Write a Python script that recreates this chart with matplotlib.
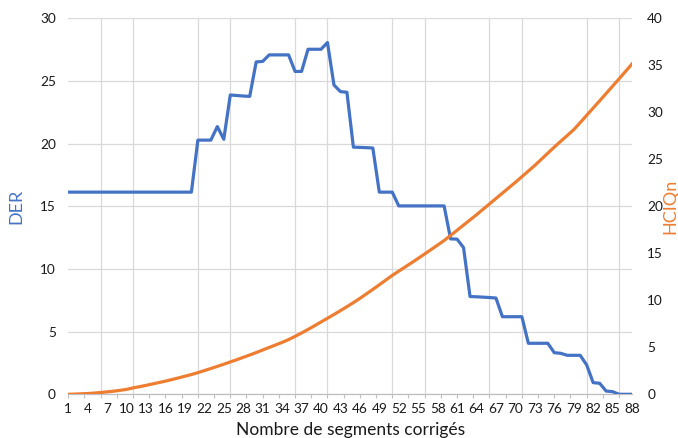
import numpy as np
import matplotlib
matplotlib.use("Agg")
import matplotlib.pyplot as plt
from matplotlib.ticker import MultipleLocator, NullFormatter

plt.rcParams['font.family'] = ['Lato', 'DejaVu Sans']

# segments corrected (x categories)
segments = list(range(1, 89))

# DER (left axis)
der = [16.13] * 20 + [
    20.28, 20.28, 20.28, 21.36, 20.35,               # 21-25
    23.88, 23.84, 23.80, 23.77, 26.52,               # 26-30
    26.56, 27.08, 27.08, 27.08, 27.08,               # 31-35
    25.76, 25.76, 27.53, 27.53, 27.53,               # 36-40
    28.07, 24.68, 24.15, 24.10, 19.72,               # 41-45
    19.70, 19.68, 19.65, 16.13, 16.13,               # 46-50
    16.13, 15.03, 15.03, 15.03, 15.03,               # 51-55
    15.03, 15.03, 15.03, 15.03, 12.40,               # 56-60
    12.38, 11.70, 7.80, 7.78, 7.75,                  # 61-65
    7.72, 7.68, 6.19, 6.19, 6.19,                    # 66-70
    6.19, 4.07, 4.07, 4.07, 4.07,                    # 71-75
    3.32, 3.27, 3.11, 3.11, 3.11,                    # 76-80
    2.34, 0.93, 0.88, 0.26, 0.21,                    # 81-85
    0.0, 0.0, 0.0,                                   # 86-88
]

# HCIQn (right axis)
hciqn = [
    0.00, 0.02, 0.05, 0.08, 0.13, 0.19, 0.26, 0.33, 0.42, 0.52,
    0.68, 0.81, 0.95, 1.10, 1.25, 1.40, 1.57, 1.74, 1.92, 2.10,
    2.30, 2.52, 2.74, 2.97, 3.20, 3.44, 3.68, 3.93, 4.18, 4.44,
    4.71, 4.98, 5.25, 5.52, 5.82, 6.16, 6.52, 6.90, 7.29, 7.69,
    8.09, 8.49, 8.90, 9.32, 9.75, 10.20, 10.68, 11.16, 11.65, 12.15,
    12.65, 13.10, 13.55, 14.00, 14.46, 14.93, 15.40, 15.88, 16.36, 16.90,
    17.45, 18.00, 18.55, 19.10, 19.68, 20.25, 20.83, 21.40, 21.98, 22.55,
    23.15, 23.75, 24.35, 25.00, 25.65, 26.30, 26.92, 27.53, 28.15, 28.90,
    29.68, 30.45, 31.22, 32.00, 32.78, 33.56, 34.35, 35.15,
]

x_labels = list(range(1, 89, 3))

BLUE = '#4472C4'
ORANGE = '#ED7D31'
GRID = '#D9D9D9'
TEXT = '#1a1a1a'

fig = plt.figure(figsize=(6.78, 4.38), dpi=100)
ax = fig.add_axes([0.1007, 0.0998, 0.8315, 0.8584])
ax2 = ax.twinx()

ax.plot(segments, der, color=BLUE, lw=2.3, solid_joinstyle='round', zorder=3)
ax2.plot(segments, hciqn, color=ORANGE, lw=2.3, solid_joinstyle='round', zorder=3)

ax.set_xlim(1, 88)
ax.set_ylim(0, 30)
ax2.set_ylim(0, 40)

# labels every 3 segments, gridlines every 5
ax.set_xticks(x_labels)
ax.set_xticklabels([str(v) for v in x_labels], fontsize=9.8, color=TEXT)
ax.tick_params(axis='x', which='major', length=0, pad=6)
ax.xaxis.set_minor_locator(MultipleLocator(5, offset=1))
ax.tick_params(axis='x', which='minor', length=0)
ax.grid(True, axis='x', which='minor', color=GRID, lw=0.9)

# small tick marks every 2.5 segments
sec = ax.secondary_xaxis('bottom')
sec.xaxis.set_major_locator(MultipleLocator(2.5, offset=1))
sec.xaxis.set_major_formatter(NullFormatter())
sec.tick_params(axis='x', length=3, color='#BFBFBF', width=0.8)
sec.spines['bottom'].set_visible(False)

ax.set_yticks(np.arange(0, 31, 5))
ax.tick_params(axis='y', length=0, labelsize=9.8, labelcolor=TEXT, pad=9)
ax.grid(True, axis='y', which='major', color=GRID, lw=0.9)
ax.set_axisbelow(True)

ax2.set_yticks(np.arange(0, 41, 5))
ax2.tick_params(axis='y', length=0, labelsize=9.8, labelcolor=TEXT, pad=11)

for a in (ax, ax2):
    for s in ('top', 'left', 'right'):
        a.spines[s].set_visible(False)
    a.spines['bottom'].set_color('#BFBFBF')
    a.spines['bottom'].set_linewidth(0.9)
ax2.spines['bottom'].set_visible(False)

ax.set_xlabel('Nombre de segments corrigés', fontsize=12.5, color=TEXT, labelpad=5)
ax.set_ylabel('DER', fontsize=13, color=BLUE)
ax.yaxis.set_label_coords(-0.077, 0.5)
ax2.set_ylabel('HCIQn', fontsize=13, color=ORANGE)
ax2.yaxis.set_label_coords(1.053, 0.5)

fig.savefig('out.png', dpi=100)
